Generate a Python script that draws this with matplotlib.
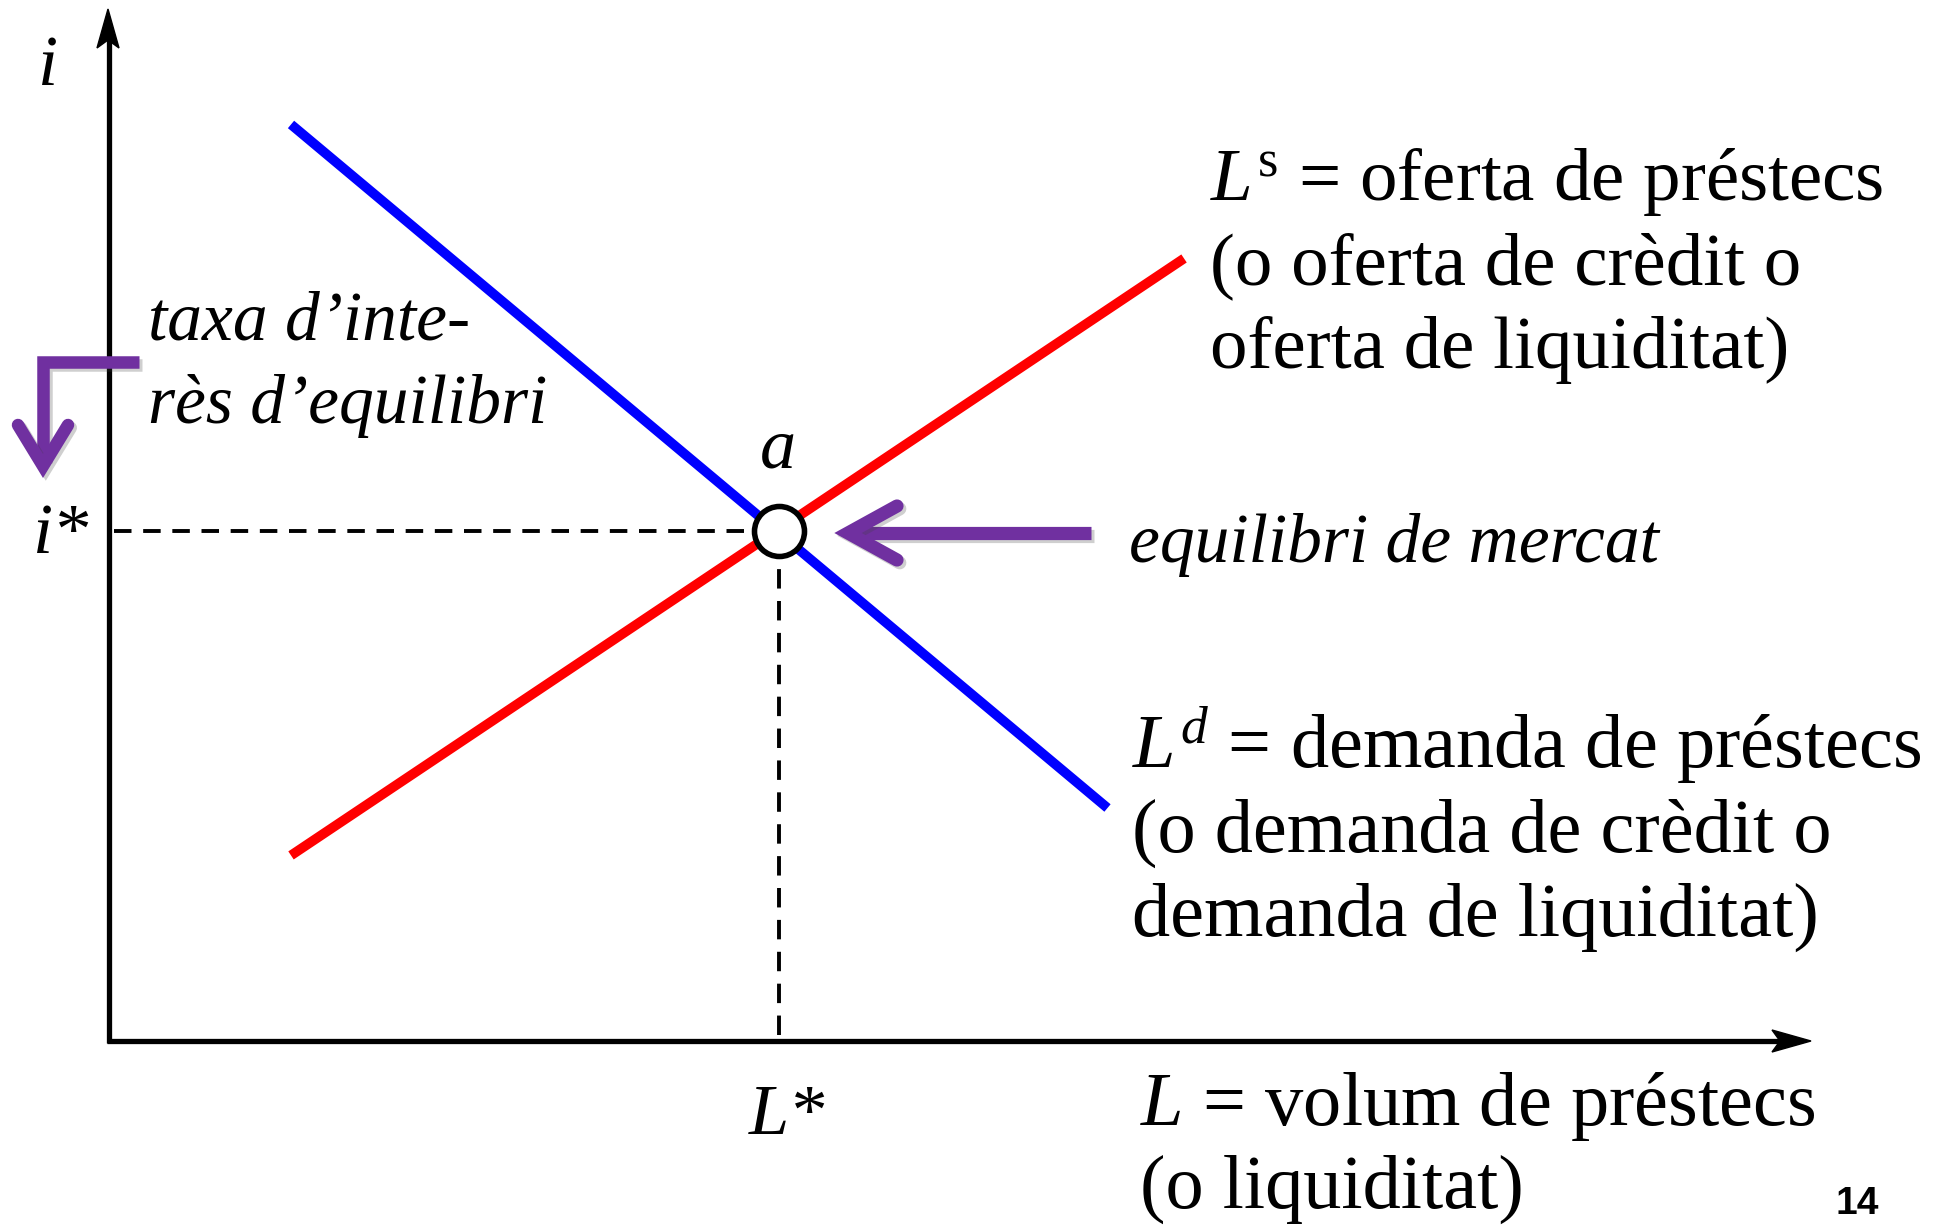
import matplotlib
matplotlib.use("Agg")
import matplotlib.pyplot as plt
import matplotlib.patheffects as pe
from matplotlib.patches import Polygon

plt.rcParams['mathtext.fontset'] = 'custom'
plt.rcParams['mathtext.rm'] = 'Liberation Serif'
plt.rcParams['mathtext.it'] = 'Liberation Serif:italic'
plt.rcParams['mathtext.bf'] = 'Liberation Serif:bold'

# ---- data (loan quantity L, interest rate i; arbitrary units) ----
L_demand = [10.7, 58.7]
i_demand = [88.9, 22.6]
L_supply = [10.7, 63.2]
i_supply = [18.0, 75.9]
L_eq = 39.4
i_eq = 49.5

supply_lines = [r"$L^{\mathrm{s}}$ = oferta de préstecs",
                "(o oferta de crèdit o",
                "oferta de liquiditat)"]
demand_lines = [r"$L^{d}$ = demanda de préstecs",
                "(o demanda de crèdit o",
                "demanda de liquiditat)"]
xlabel_lines = [r"$L$ = volum de préstecs", "(o liquiditat)"]
rate_lines = ["taxa d\u2019inte-", "rès d\u2019equilibri"]
eq_label = "equilibri de mercat"

W, H = 1944, 1227
fig = plt.figure(figsize=(W / 100, H / 100), dpi=100)
fig.patch.set_facecolor("white")

# overlay in pixel coordinates for annotations
ov = fig.add_axes([0, 0, 1, 1], zorder=1)
ov.set_xlim(0, W)
ov.set_ylim(H, 0)
ov.axis("off")
ov.patch.set_alpha(0)

# data axes: origin at pixel (109, 1041)
x0, y0, x1, y1 = 109, 1041, 1810, 10
ax = fig.add_axes([x0 / W, (H - y0) / H, (x1 - x0) / W, (y0 - y1) / H], zorder=2)
ax.set_xlim(0, 100)
ax.set_ylim(0, 100)
ax.axis("off")
ax.patch.set_alpha(0)

# axes with arrows
ov.plot([109, 109], [1043, 40], color="black", lw=3.8, solid_capstyle="butt")
ov.plot([107, 1780], [1041, 1041], color="black", lw=3.8, solid_capstyle="butt")
ov.add_patch(Polygon([(108, 9), (97, 48), (108, 40), (119, 48)], closed=True, color="black"))
ov.add_patch(Polygon([(1811, 1041), (1772, 1030), (1780, 1041), (1772, 1052)], closed=True, color="black"))

# curves
ax.plot(L_demand, i_demand, color="#0000FF", lw=7, solid_capstyle="butt")
ax.plot(L_supply, i_supply, color="#FF0000", lw=7, solid_capstyle="butt")

# dashed guides
ax.plot([0.3, L_eq], [i_eq, i_eq], color="black", lw=2.8, ls=(0, (4.5, 3)))
ax.plot([L_eq, L_eq], [0.6, i_eq], color="black", lw=2.8, ls=(0, (5, 3.2)))

# equilibrium point
ax.plot([L_eq], [i_eq], marker="o", ms=36, mfc="white", mec="black", mew=4, zorder=5)

purple = "#7030A0"
shadow = [pe.SimpleLineShadow(offset=(2, -2), alpha=0.25, shadow_color="#404040"), pe.Normal()]

# purple arrow pointing to equilibrium
ov.plot([1091, 857], [533, 533], color=purple, lw=9.5, solid_capstyle="butt", path_effects=shadow)
ov.plot([897, 848, 897], [506, 533, 560], color=purple, lw=9.5, solid_capstyle="round",
        solid_joinstyle="miter", path_effects=shadow)

# purple bent arrow on the left
ov.plot([139, 43, 43], [362, 362, 460], color=purple, lw=9, solid_capstyle="butt",
        solid_joinstyle="miter", path_effects=shadow)
ov.plot([18, 43, 68], [425, 466, 425], color=purple, lw=9, solid_capstyle="round",
        solid_joinstyle="miter", path_effects=shadow)

serif = "Liberation Serif"
up_size = 55
it_size = 50
lab_size = 52

for k, s in enumerate(supply_lines):
    ov.text(1210, 200 + 84 * k, s, fontsize=54, family=serif, va="baseline", ha="left")
for k, s in enumerate(demand_lines):
    ov.text(1132, 768 + 84 * k, s, fontsize=up_size, family=serif, va="baseline", ha="left")
for k, s in enumerate(xlabel_lines):
    ov.text(1140, 1125 + 83 * k, s, fontsize=up_size, family=serif, va="baseline", ha="left")
for k, s in enumerate(rate_lines):
    ov.text(148, 339 + 84 * k, s, fontsize=it_size, family=serif, style="italic",
            va="baseline", ha="left")
ov.text(1129, 562, eq_label, fontsize=it_size, family=serif, style="italic", va="baseline", ha="left")

ov.text(38, 85, "i", fontsize=lab_size, family=serif, style="italic", va="baseline", ha="left")
ov.text(33, 553, "i*", fontsize=lab_size, family=serif, style="italic", va="baseline", ha="left")
ov.text(749, 1134, "L*", fontsize=lab_size, family=serif, style="italic", va="baseline", ha="left")
ov.text(778, 468, "a", fontsize=lab_size, family=serif, style="italic", va="baseline", ha="center")

ov.text(1835, 1214, "14", fontsize=28, family="Liberation Sans", weight="bold", va="baseline", ha="left")

fig.savefig("out.png", dpi=100, facecolor="white")
